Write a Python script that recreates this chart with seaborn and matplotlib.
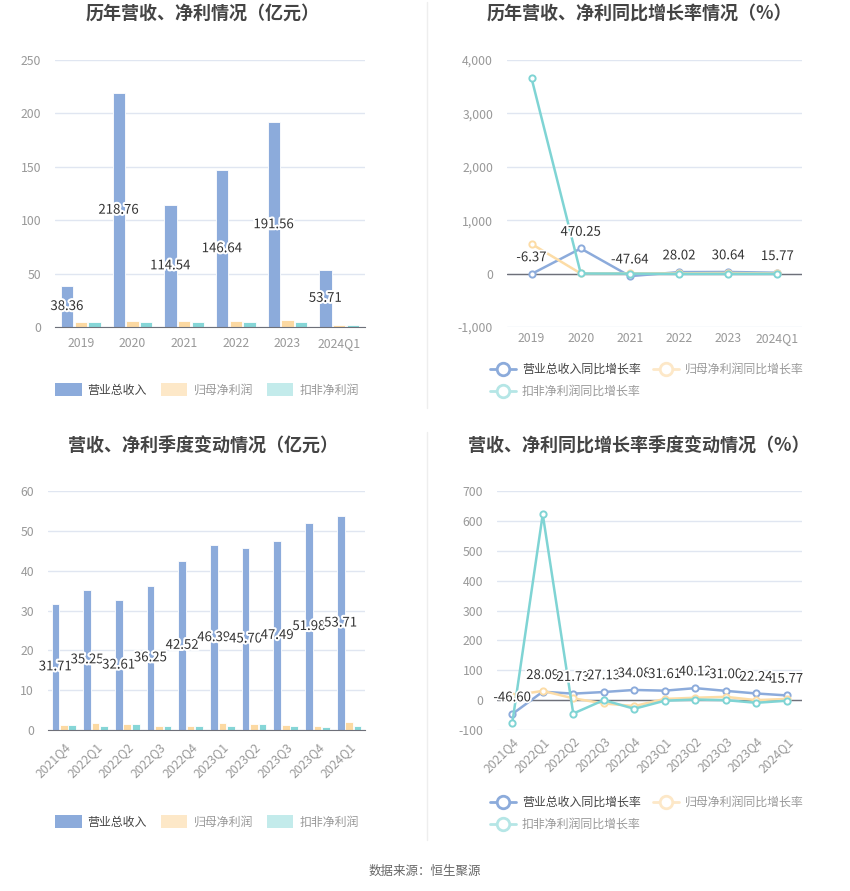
import numpy as np
import pandas as pd
import matplotlib
matplotlib.use("Agg")
import matplotlib.pyplot as plt
import matplotlib.patheffects as pe
from matplotlib.patches import Patch
from matplotlib.lines import Line2D
import seaborn as sns

sns.set_style("white")
plt.rcParams['font.family'] = ['Noto Sans CJK SC', 'DejaVu Sans']

# yearly data
years = ['2019', '2020', '2021', '2022', '2023', '2024Q1']
revenue_y = [38.36, 218.76, 114.54, 146.64, 191.56, 53.71]
profit_y = [5.0, 5.5, 5.8, 6.0, 6.5, 2.3]
deduct_y = [4.5, 4.6, 5.0, 5.0, 5.0, 1.8]
rev_growth_y = [-6.37, 470.25, -47.64, 28.02, 30.64, 15.77]
profit_growth_y = [555, 2, 5, 5, 10, 2]
deduct_growth_y = [3656, 2, 0, -5, -5, -5]

# quarterly data
quarters = ['2021Q4', '2022Q1', '2022Q2', '2022Q3', '2022Q4',
            '2023Q1', '2023Q2', '2023Q3', '2023Q4', '2024Q1']
revenue_q = [31.71, 35.25, 32.61, 36.25, 42.52, 46.39, 45.70, 47.49, 51.98, 53.71]
profit_q = [1.3, 1.7, 1.4, 1.1, 1.0, 1.8, 1.6, 1.3, 1.1, 1.9]
deduct_q = [1.2, 1.1, 1.4, 1.1, 0.9, 1.1, 1.4, 1.1, 0.8, 1.1]
rev_growth_q = [-46.60, 28.09, 21.73, 27.13, 34.08, 31.61, 40.12, 31.00, 22.24, 15.77]
profit_growth_q = [15, 31, 6, -11, -20, 4, 8, 11, 0, 4]
deduct_growth_q = [-77, 622, -45, 0, -29, -2, 2, 0, -9, -2]

bar_names = ['营业总收入', '归母净利润', '扣非净利润']
line_names = ['营业总收入同比增长率', '归母净利润同比增长率', '扣非净利润同比增长率']
bar_colors = ['#8cabdb', '#fcd9a2', '#86d6d7']
legend_bar_colors = ['#8cabdb', '#fde8c8', '#c3ebeb']
line_colors = ['#8cabdb', '#fcdca6', '#7fd4d4']
legend_line_colors = ['#8cabdb', '#fde8c8', '#b5e6e6']

W, H = 850, 891
fig = plt.figure(figsize=(W / 100, H / 100), dpi=100)


def px_axes(left, top, right, bottom):
    return fig.add_axes([left / W, 1 - bottom / H, (right - left) / W, (bottom - top) / H])


def style_axes(ax, yticks, fmt="{:g}", zero_line=False):
    ax.set_yticks(yticks)
    ax.set_yticklabels([fmt.format(t) for t in yticks])
    ax.set_ylim(yticks[0], yticks[-1])
    ax.grid(axis='y', color='#e0e6f1', linewidth=1)
    ax.set_axisbelow(True)
    for s in ['top', 'right', 'left']:
        ax.spines[s].set_visible(False)
    if zero_line:
        ax.spines['bottom'].set_visible(False)
        ax.axhline(0, color='#6e7079', linewidth=1, zorder=1.5)
        ax.tick_params(axis='x', length=0)
    else:
        ax.spines['bottom'].set_color('#6e7079')
        ax.tick_params(axis='x', length=4, color='#6e7079')
    ax.tick_params(axis='y', length=0, pad=10)
    ax.tick_params(labelsize=8.8, labelcolor='#999999')
    ax.set_xlabel('')
    ax.set_ylabel('')


def bar_panel(ax, cats, rev, prof, ded, yticks, rotate=False):
    df = pd.DataFrame({
        'period': cats * 3,
        'value': rev + prof + ded,
        'series': [bar_names[0]] * len(cats) + [bar_names[1]] * len(cats) + [bar_names[2]] * len(cats),
    })
    sns.barplot(data=df, x='period', y='value', hue='series', palette=bar_colors,
                saturation=1, gap=0.1, ax=ax, legend=False, edgecolor='white', linewidth=0.6)
    style_axes(ax, yticks)
    ax.set_xlim(-0.5, len(cats) - 0.5)
    for i, v in enumerate(rev):
        ax.text(i - 0.267, v / 2, f"{v:.2f}", ha='center', va='center', fontsize=9.5,
                color='#333333', path_effects=[pe.withStroke(linewidth=3, foreground='white')])
    if rotate:
        plt.setp(ax.get_xticklabels(), rotation=45, ha='right', rotation_mode='anchor')


def line_panel(ax, cats, rev, prof, ded, yticks, fmt):
    for vals, col in zip([rev, prof, ded], line_colors):
        sns.lineplot(x=cats, y=vals, sort=False, ax=ax, color=col, linewidth=1.8,
                     marker='o', markersize=4.5, markerfacecolor='white',
                     markeredgecolor=col, markeredgewidth=1.4)
    style_axes(ax, yticks, fmt, zero_line=True)
    ax.set_xlim(-0.5, len(cats) - 0.5)
    for i, v in enumerate(rev):
        ax.annotate(f"{v:.2f}", (i, v), xytext=(0, 7), textcoords='offset points',
                    ha='center', va='bottom', fontsize=9.5, color='#333333',
                    path_effects=[pe.withStroke(linewidth=2.5, foreground='white')])


def bar_legend(y_px, x_px):
    handles = [Patch(facecolor=c, edgecolor='none') for c in legend_bar_colors]
    leg = fig.legend(handles, bar_names, loc='center', bbox_to_anchor=(x_px / W, 1 - y_px / H),
                     ncol=3, frameon=False, fontsize=8.6, handlelength=2.2, handleheight=1.3,
                     columnspacing=1.2, handletextpad=0.5)
    for i, t in enumerate(leg.get_texts()):
        t.set_color('#444444' if i == 0 else '#999999')


def line_legend(y_px, x_px):
    handles = [Line2D([0], [0], color=c, linewidth=2, marker='o', markersize=9,
                      markerfacecolor='white', markeredgecolor=c, markeredgewidth=2)
               for c in legend_line_colors]
    order = [0, 2, 1]
    leg = fig.legend([handles[i] for i in order], [line_names[i] for i in order],
                     loc='upper left', bbox_to_anchor=(x_px / W, 1 - y_px / H),
                     ncol=2, frameon=False, fontsize=8.6, handlelength=2.2,
                     columnspacing=1.0, handletextpad=0.5, labelspacing=0.75)
    for i, t in zip(order, leg.get_texts()):
        t.set_color('#444444' if i == 0 else '#999999')


# top-left: yearly revenue / profit
ax1 = px_axes(55, 60, 365, 327)
bar_panel(ax1, years, revenue_y, profit_y, deduct_y, [0, 50, 100, 150, 200, 250])
fig.text(203 / W, 1 - 13 / H, '历年营收、净利情况（亿元）', ha='center', va='center',
         fontsize=13, fontweight='bold', color='#444444')
bar_legend(390, 207)

# top-right: yearly growth
ax2 = px_axes(507, 60, 802, 327)
line_panel(ax2, years, rev_growth_y, profit_growth_y, deduct_growth_y,
           [-1000, 0, 1000, 2000, 3000, 4000], "{:,.0f}")
fig.text(639 / W, 1 - 13 / H, '历年营收、净利同比增长率情况（%）', ha='center', va='center',
         fontsize=13, fontweight='bold', color='#444444')
line_legend(352, 479)

# bottom-left: quarterly revenue / profit
ax3 = px_axes(48, 491, 365, 730)
bar_panel(ax3, quarters, revenue_q, profit_q, deduct_q, [0, 10, 20, 30, 40, 50, 60], rotate=True)
fig.text(203 / W, 1 - 445 / H, '营收、净利季度变动情况（亿元）', ha='center', va='center',
         fontsize=13, fontweight='bold', color='#444444')
bar_legend(822, 207)

# bottom-right: quarterly growth
ax4 = px_axes(497, 491, 802, 730)
line_panel(ax4, quarters, rev_growth_q, profit_growth_q, deduct_growth_q,
           [-100, 0, 100, 200, 300, 400, 500, 600, 700], "{:g}")
plt.setp(ax4.get_xticklabels(), rotation=45, ha='right', rotation_mode='anchor')
fig.text(639 / W, 1 - 445 / H, '营收、净利同比增长率季度变动情况（%）', ha='center', va='center',
         fontsize=13, fontweight='bold', color='#444444')
line_legend(785, 479)

# separators and footer
fig.add_artist(Line2D([427 / W, 427 / W], [1 - 2 / H, 1 - 408 / H], color='#eeeeee', linewidth=1))
fig.add_artist(Line2D([427 / W, 427 / W], [1 - 432 / H, 1 - 840 / H], color='#eeeeee', linewidth=1))
fig.text(425 / W, 1 - 871 / H, '数据来源：恒生聚源', ha='center', va='center',
         fontsize=9, color='#666666')

fig.savefig('out.png', dpi=100, facecolor='white')
